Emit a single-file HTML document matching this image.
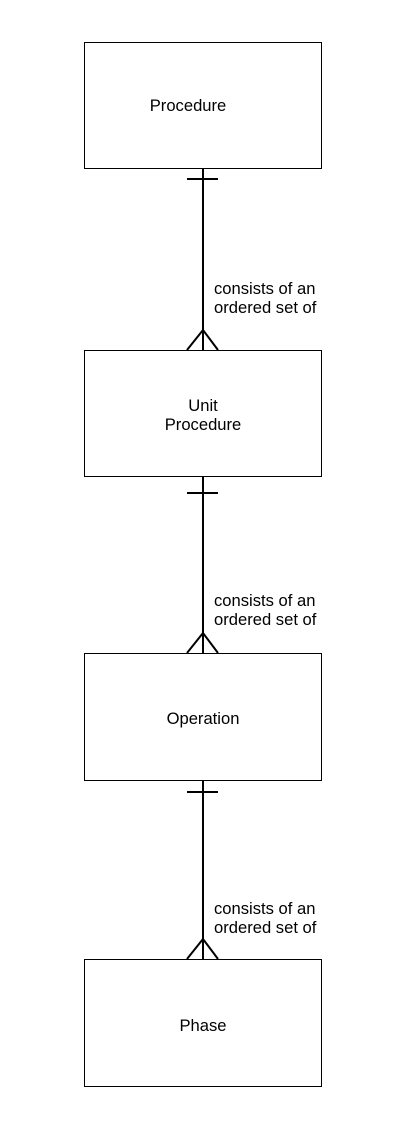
<!DOCTYPE html>
<html><head><style>
html,body{margin:0;padding:0;background:#fff;}
svg{display:block}
text{font-family:"Liberation Sans",Arial,sans-serif;font-size:16.6px;fill:#000}
</style></head><body>
<svg width="402" height="1130" xmlns="http://www.w3.org/2000/svg">
<g fill="#fff" stroke="#000" stroke-width="1">
<rect x="84.5" y="42.5" width="237" height="126"/>
<rect x="84.5" y="350.5" width="237" height="126"/>
<rect x="84.5" y="653.5" width="237" height="127"/>
<rect x="84.5" y="959.5" width="237" height="127"/>
</g>
<g stroke="#000" stroke-width="2" fill="none">
<line x1="203" y1="169" x2="203" y2="350"/><line x1="187" y1="179" x2="218" y2="179"/>
<polyline points="187,350 203,330 218,350"/>
<line x1="203" y1="477" x2="203" y2="653"/><line x1="187" y1="493" x2="218" y2="493"/>
<polyline points="187,653 203,633 218,653"/>
<line x1="203" y1="781" x2="203" y2="959"/><line x1="187" y1="792" x2="218" y2="792"/>
<polyline points="187,959 203,939 218,959"/>
</g>
<g text-anchor="middle">
<text x="188" y="111">Procedure</text>
<text x="203" y="411">Unit</text>
<text x="203" y="430">Procedure</text>
<text x="203" y="724">Operation</text>
<text x="203" y="1031">Phase</text>
</g>
<text x="214" y="294">consists of an</text><text x="214" y="313">ordered set of</text>
<text x="214" y="606">consists of an</text><text x="214" y="625">ordered set of</text>
<text x="214" y="914">consists of an</text><text x="214" y="933">ordered set of</text>
</svg>
</body></html>
